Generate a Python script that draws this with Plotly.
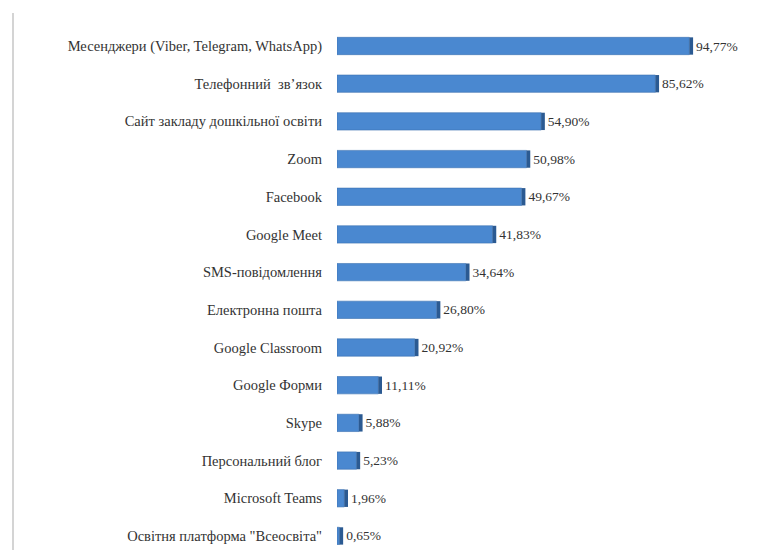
import plotly.graph_objects as go

categories = [
    "Месенджери (Viber, Telegram, WhatsApp)",
    "Телефонний  зв’язок",
    "Сайт закладу дошкільної освіти",
    "Zoom",
    "Facebook",
    "Google Meet",
    "SMS-повідомлення",
    "Електронна пошта",
    "Google Classroom",
    "Google Форми",
    "Skype",
    "Персональний блог",
    "Microsoft Teams",
    "Освітня платформа \"Всеосвіта\"",
]
values = [94.77, 85.62, 54.90, 50.98, 49.67, 41.83, 34.64, 26.80, 20.92, 11.11, 5.88, 5.23, 1.96, 0.65]
value_labels = ["94,77%", "85,62%", "54,90%", "50,98%", "49,67%", "41,83%", "34,64%",
                "26,80%", "20,92%", "11,11%", "5,88%", "5,23%", "1,96%", "0,65%"]

depth = [1.0] * len(values)

# page body has an 8px margin; size the figure to fit the window
OFF = 8
W, H = 771 - OFF, 550 - OFF
L, R, T = 337 - OFF, 25, 20 - OFF
pw = W - L - R
ph = 525
B = H - T - ph

fig = go.Figure()
fig.add_trace(go.Bar(
    y=categories, x=values, orientation="h",
    marker=dict(color="#4a88d0", line=dict(color="#3a70b0", width=0.6)),
    width=0.46, hoverinfo="skip", showlegend=False,
))
fig.add_trace(go.Bar(
    y=categories, x=depth, base=values, orientation="h",
    marker=dict(color="#2b5a92", line=dict(width=0)),
    width=0.46, text=value_labels, textposition="outside",
    textfont=dict(family="Liberation Serif", size=13.5, color="#333333"),
    cliponaxis=False, hoverinfo="skip", showlegend=False,
))

fig.update_layout(
    width=W, height=H,
    margin=dict(l=L, r=R, t=T, b=B, autoexpand=False),
    paper_bgcolor="white", plot_bgcolor="white",
    barmode="overlay",
    font=dict(family="Liberation Serif", size=14.5, color="#333333"),
    xaxis=dict(range=[0, 110], visible=False, showgrid=False, zeroline=False),
    yaxis=dict(type="category", categoryorder="array", categoryarray=categories,
               range=[13.24, -0.69], showgrid=False, zeroline=False, showline=False,
               ticks="", ticklabelstandoff=14, automargin=False,
               tickfont=dict(family="Liberation Serif", size=14.5, color="#333333")),
    shapes=[dict(type="line", xref="paper", yref="paper", layer="above",
                 x0=(13 - OFF - L) / pw, x1=(13 - OFF - L) / pw,
                 y0=1 + (T - (13 - OFF)) / ph, y1=-B / ph,
                 line=dict(color="#d4d4d4", width=2))],
)

fig.write_html("out.html")
